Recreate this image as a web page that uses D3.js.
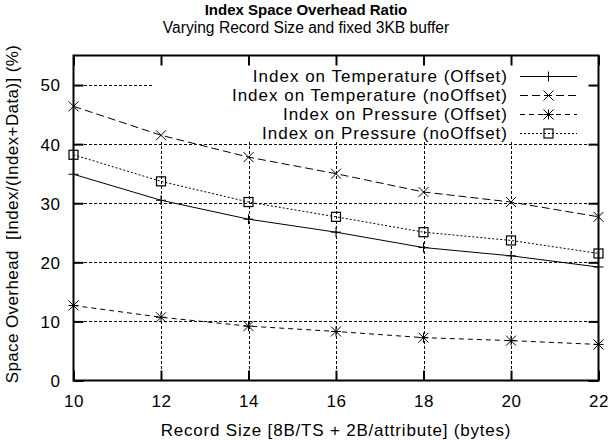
<!DOCTYPE html>
<html><head><meta charset="utf-8">
<script src="https://cdn.jsdelivr.net/npm/d3@7"></script>
<style>
html,body{margin:0;padding:0;background:#fff;}
svg{display:block;font-family:"Liberation Sans",Arial,sans-serif;}
</style></head>
<body><svg id="c" width="612" height="440"></svg>
<script>
const recordSizes = [10, 12, 14, 16, 18, 20, 22];
const tempOffset    = [34.9, 30.5, 27.3, 25.1, 22.5, 21.1, 19.2];
const tempNoOffset  = [46.4, 41.5, 37.8, 35.0, 31.9, 30.2, 27.7];
const pressOffset   = [12.7, 10.7, 9.2, 8.3, 7.25, 6.75, 6.1];
const pressNoOffset = [38.2, 33.7, 30.2, 27.7, 25.1, 23.7, 21.5];
const seriesNames = ["Index on Temperature (Offset)", "Index on Temperature (noOffset)",
                     "Index on Pressure (Offset)", "Index on Pressure (noOffset)"];
const xTicks = [10, 12, 14, 16, 18, 20, 22];
const yTicks = [0, 10, 20, 30, 40, 50];
const titleText = "Index Space Overhead Ratio";
const subtitleText = "Varying Record Size and fixed 3KB buffer";
const xLabel = "Record Size [8B/TS + 2B/attribute] (bytes)";
const yLabel = "Space Overhead  [Index/(Index+Data)] (%)";

const series = [
  {name: seriesNames[0], values: tempOffset,    dash: null,  marker: "plus"},
  {name: seriesNames[1], values: tempNoOffset,  dash: "8,4", marker: "cross"},
  {name: seriesNames[2], values: pressOffset,   dash: "5,4", marker: "star"},
  {name: seriesNames[3], values: pressNoOffset, dash: "2,2", marker: "box"}
];

const L = 73.5, R = 598.5, T = 55.5, B = 380.5;
const svg = d3.select("#c");
const x = d3.scaleLinear().domain([10, 22]).range([L, R]);
const y = d3.scaleLinear().domain([0, 55]).range([B, T]);

// titles
svg.append("text").attr("x", 306).attr("y", 15).attr("text-anchor", "middle")
  .attr("font-size", 15).attr("font-weight", "bold").text(titleText);
svg.append("text").attr("x", 306).attr("y", 33).attr("text-anchor", "middle")
  .attr("font-size", 15.6).text(subtitleText);

// grid
const grid = svg.append("g").attr("stroke", "#000").attr("stroke-width", 1)
  .attr("stroke-dasharray", "3,2").attr("shape-rendering", "crispEdges");
yTicks.filter(v => v > 0).forEach(v => {
  grid.append("line").attr("x1", L).attr("x2", R).attr("y1", Math.round(y(v)) + 0.5).attr("y2", Math.round(y(v)) + 0.5);
});
xTicks.filter(v => v > 10 && v < 22).forEach(v => {
  grid.append("line").attr("y1", T).attr("y2", B).attr("x1", Math.round(x(v)) + 0.5).attr("x2", Math.round(x(v)) + 0.5);
});

// key background (opaque)
svg.append("rect").attr("x", 153).attr("y", T + 1).attr("width", R - 153 - 1).attr("height", 142 - T - 1)
  .attr("fill", "#fff");

// axes with ticks on all sides
const tickLen = 10;
const xAxisB = d3.axisBottom(x).tickValues(xTicks).tickSizeInner(-tickLen).tickSizeOuter(0).tickPadding(14);
const xAxisT = d3.axisTop(x).tickValues(xTicks).tickSizeInner(-tickLen).tickSizeOuter(0).tickFormat("");
const yAxisL = d3.axisLeft(y).tickValues(yTicks).tickSizeInner(-tickLen).tickSizeOuter(0).tickPadding(13);
const yAxisR = d3.axisRight(y).tickValues(yTicks).tickSizeInner(-tickLen).tickSizeOuter(0).tickFormat("");
function styleAxis(g) {
  g.select(".domain").remove();
  g.selectAll("line").attr("stroke", "#000").attr("stroke-width", 2);
  g.selectAll("text").attr("font-size", 17).attr("letter-spacing", 0.5).attr("fill", "#000")
    .attr("font-family", "Liberation Sans, Arial, sans-serif");
}
svg.append("g").attr("transform", `translate(0,${B})`).call(xAxisB).call(styleAxis)
  .selectAll("text").attr("dy", "0.71em");
svg.append("g").attr("transform", `translate(0,${T})`).call(xAxisT).call(styleAxis);
svg.append("g").attr("transform", `translate(${L},0)`).call(yAxisL).call(styleAxis)
  .selectAll("text").attr("dy", "0.35em");
svg.append("g").attr("transform", `translate(${R},0)`).call(yAxisR).call(styleAxis);

// border
svg.append("rect").attr("x", L).attr("y", T).attr("width", R - L).attr("height", B - T)
  .attr("fill", "none").attr("stroke", "#000").attr("stroke-width", 2);

// markers
function drawMarker(g, type, cx, cy) {
  const s = 5;
  const add = (x1, y1, x2, y2) => g.append("line").attr("x1", x1).attr("y1", y1).attr("x2", x2).attr("y2", y2)
      .attr("stroke", "#000").attr("stroke-width", 1);
  if (type === "plus") { add(cx - s, cy, cx + s, cy); add(cx, cy - s, cx, cy + s); }
  if (type === "cross") { add(cx - s, cy - s, cx + s, cy + s); add(cx - s, cy + s, cx + s, cy - s); }
  if (type === "star") { add(cx - s, cy, cx + s, cy); add(cx, cy - s, cx, cy + s);
                         add(cx - s, cy - s, cx + s, cy + s); add(cx - s, cy + s, cx + s, cy - s); }
  if (type === "box") { g.append("rect").attr("x", cx - s + 0.5).attr("y", cy - s + 0.5).attr("width", 2 * s - 1).attr("height", 2 * s - 1)
      .attr("fill", "none").attr("stroke", "#000").attr("stroke-width", 1.2); }
}

const line = d3.line().x(d => x(d[0])).y(d => y(d[1]));
const plot = svg.append("g");
series.forEach(s => {
  const pts = recordSizes.map((r, i) => [r, s.values[i]]);
  plot.append("path").datum(pts).attr("d", line).attr("fill", "none").attr("stroke", "#000")
    .attr("stroke-width", 1).attr("stroke-dasharray", s.dash);
  pts.forEach(p => drawMarker(plot, s.marker, x(p[0]), y(p[1])));
});

// legend
const legY = [76, 95, 114, 133];
const leg = svg.append("g");
series.forEach((s, i) => {
  leg.append("text").attr("x", 508).attr("y", legY[i]).attr("dy", "0.35em").attr("text-anchor", "end")
    .attr("font-size", 17).attr("letter-spacing", 1).text(s.name);
  leg.append("line").attr("x1", 520).attr("x2", 577).attr("y1", legY[i] + 0.5).attr("y2", legY[i] + 0.5)
    .attr("stroke", "#000").attr("stroke-width", 1).attr("stroke-dasharray", s.dash);
  drawMarker(leg, s.marker, 548.5, legY[i] + 0.5);
});

// axis labels
svg.append("text").attr("x", (L + R) / 2).attr("y", 436).attr("text-anchor", "middle")
  .attr("font-size", 17).attr("letter-spacing", 0.8).text(xLabel);
svg.append("text").attr("transform", `translate(18,${214}) rotate(-90)`).attr("text-anchor", "middle")
  .attr("font-size", 17).attr("letter-spacing", 0.4).style("white-space", "pre").text(yLabel);
</script></body></html>
